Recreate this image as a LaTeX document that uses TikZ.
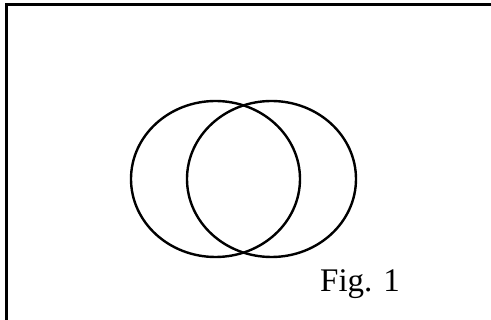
\documentclass[tikz,border=0pt]{standalone}
\usepackage{fontspec}
\setmainfont{Liberation Serif}
\begin{document}
\begin{tikzpicture}[x=1pt,y=-1pt,
  frameline/.style={line width=3.2pt},
  ring/.style={draw, line width=2.4pt},
  caption/.style={font=\fontsize{33}{40}\selectfont, inner sep=0pt, anchor=base west}]
\useasboundingbox (0,0) rectangle (491,320);
% frame (left and top edges only visible)
\coordinate (fbot) at (6.5,320);
\coordinate (fcorner) at (6.5,4.5);
\coordinate (fright) at (491,4.5);
\draw[frameline] (fbot) -- (fcorner) -- (fright);
% two overlapping circles
\draw[ring] (215.5,179) ellipse [x radius=84.5, y radius=78];
\draw[ring] (271.5,179) ellipse [x radius=84.5, y radius=78];
\node[caption] (fig) at (320,291.7) {Fig. 1};
\end{tikzpicture}
\end{document}
